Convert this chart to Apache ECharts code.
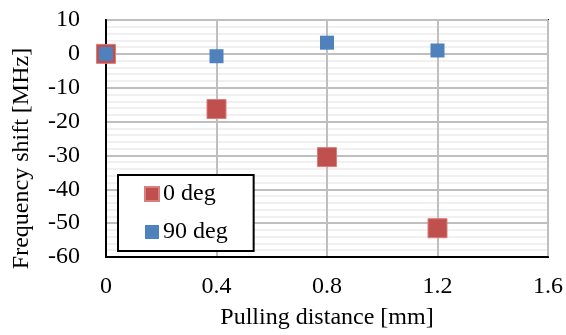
<!DOCTYPE html>
<html><head><meta charset="utf-8">
<script src="https://cdn.jsdelivr.net/npm/echarts@6/dist/echarts.min.js"></script>
<style>html,body{margin:0;padding:0;background:#fff}#c{width:566px;height:335px}</style>
</head><body><div id="c"></div>
<script>
const seriesNames = ['0 deg', '90 deg'];
const xValues = [0, 0.4, 0.8, 1.2];
const deg0 = [0, -16.3, -30.5, -51.5];
const deg90 = [0, -0.7, 3.3, 1.0];
const xTicks = [0, 0.4, 0.8, 1.2, 1.6];
const yTicks = [10, 0, -10, -20, -30, -40, -50, -60];

const font = 'Liberation Serif';
const chart = echarts.init(document.getElementById('c'));
chart.setOption({
  animation: false,
  grid: {left: 106, right: 17, top: 20, bottom: 76, show: true, borderColor: '#000', borderWidth: 2},
  legend: {
    orient: 'vertical', left: 118, top: 175,
    backgroundColor: '#fff', borderColor: '#000', borderWidth: 2,
    padding: [7, 26, 7, 26], itemGap: 14,
    itemWidth: 14, itemHeight: 14, icon: 'rect',
    textStyle: {fontFamily: font, fontSize: 24, color: '#000', padding: [0, 0, 0, -1]},
    data: seriesNames
  },
  xAxis: {
    type: 'value', min: 0, max: 1.6, interval: 0.4,
    axisLine: {show: true, onZero: false, lineStyle: {color: '#000', width: 2}},
    axisTick: {show: false},
    axisLabel: {fontFamily: font, fontSize: 24, color: '#000', margin: 18,
      formatter: v => { const t = xTicks.find(x => Math.abs(x - v) < 1e-6); return t === undefined ? '' : String(t); }},
    splitLine: {show: true, lineStyle: {color: '#bfbfbf', width: 2}},
    name: 'Pulling distance [mm]', nameLocation: 'middle', nameGap: 49,
    nameTextStyle: {fontFamily: font, fontSize: 24, color: '#000'}
  },
  yAxis: {
    type: 'value', min: -60, max: 10, interval: 10,
    axisLine: {show: true, onZero: false, lineStyle: {color: '#000', width: 2}},
    axisTick: {show: false},
    axisLabel: {fontFamily: font, fontSize: 24, color: '#000', margin: 26,
      formatter: v => { const t = yTicks.find(y => Math.abs(y - v) < 1e-6); return t === undefined ? '' : String(t); }},
    splitLine: {show: true, lineStyle: {color: '#bfbfbf', width: 2}},
    minorTick: {show: false, splitNumber: 5},
    minorSplitLine: {show: true, lineStyle: {color: '#ececec', width: 1.5}},
    name: 'Frequency shift [MHz]', nameLocation: 'middle', nameGap: 72, nameRotate: 90,
    nameTextStyle: {fontFamily: font, fontSize: 24, color: '#000', padding: [0, 40, 0, 0]}
  },
  series: [
    {name: seriesNames[0], type: 'scatter', symbol: 'rect', symbolSize: 19,
     data: xValues.map((x, i) => [x, deg0[i]]),
     itemStyle: {color: '#C0504D', borderColor: '#d87e7c', borderWidth: 1, opacity: 1}, z: 2},
    {name: seriesNames[1], type: 'scatter', symbol: 'rect', symbolSize: 14,
     data: xValues.map((x, i) => [x, deg90[i]]),
     itemStyle: {color: '#4F81BD', opacity: 1}, z: 3}
  ]
});
</script></body></html>
